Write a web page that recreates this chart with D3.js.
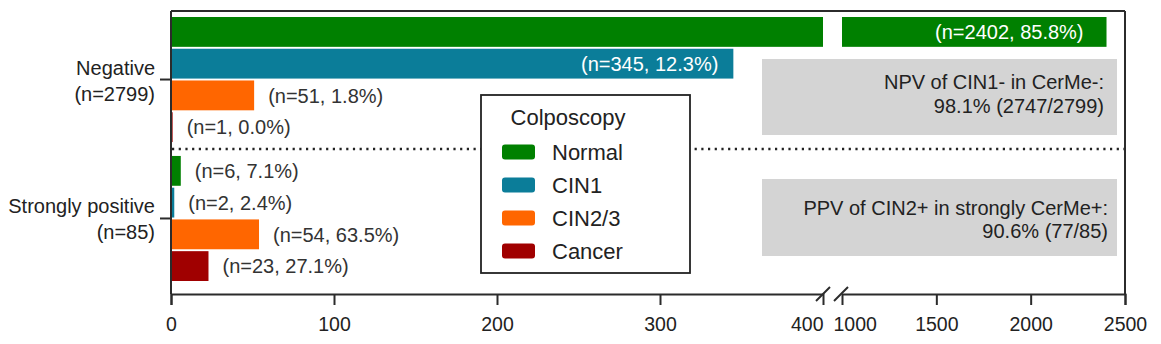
<!DOCTYPE html>
<html>
<head>
<meta charset="utf-8">
<script src="https://cdn.jsdelivr.net/npm/d3@7"></script>
<style>
  html, body { margin: 0; padding: 0; background: #fff; }
  svg { display: block; font-family: "Liberation Sans", Arial, sans-serif; }
</style>
</head>
<body>
<svg id="chart" width="1161" height="344"></svg>
<script>
// Colposcopy outcome by CerMe result
const categories = ["Negative", "Strongly positive"];
const categoryCounts = [2799, 85];
const series = ["Normal", "CIN1", "CIN2/3", "Cancer"];
const seriesColors = ["#008000", "#0b7d99", "#ff6600", "#a00000"];
const negativeValues = [2402, 345, 51, 1];
const negativePercents = ["85.8", "12.3", "1.8", "0.0"];
const strongValues = [6, 2, 54, 23];
const strongPercents = ["7.1", "2.4", "63.5", "27.1"];
const leftTicks = [0, 100, 200, 300, 400];
const rightTicks = [1000, 1500, 2000, 2500];
const notes = [
  ["NPV of CIN1- in CerMe-:", "98.1% (2747/2799)"],
  ["PPV of CIN2+ in strongly CerMe+:", "90.6% (77/85)"]
];

const rows = [
  { cat: categories[0], n: categoryCounts[0], values: negativeValues, pcts: negativePercents },
  { cat: categories[1], n: categoryCounts[1], values: strongValues, pcts: strongPercents }
];

const svg = d3.select("#chart");
const axisColor = "#2b2b2b";
const textColor = "#333";

// Broken x axis: 0–400 on the left, 1000–2500 on the right
const xLeft = d3.scaleLinear().domain([0, 400]).range([171, 823]);
const xRight = d3.scaleLinear().domain([1000, 2500]).range([842, 1125]);
const x = v => (v <= 400 ? xLeft(v) : xRight(v));

const yTop = 11, yAxis = 294;
const yGroup = d3.scaleBand().domain(categories).range([17, 281]).paddingInner(0.1);
const ySeries = d3.scaleBand().domain(series).range([0, yGroup.bandwidth()]).paddingInner(0.06);
const color = d3.scaleOrdinal().domain(series).range(seriesColors);

// Dotted separator between the two groups
const sepY = (yGroup(categories[0]) + yGroup.bandwidth() + yGroup(categories[1])) / 2;
svg.append("line")
  .attr("x1", 172).attr("x2", 1124).attr("y1", sepY).attr("y2", sepY)
  .attr("stroke", "#222").attr("stroke-width", 2.4)
  .attr("stroke-dasharray", "2.2 4.5");

// Note boxes
const noteY = [[59, 135], [179, 256]];
const noteTextY = [[89, 113], [215, 238]];
const noteRight = [1104, 1108];
notes.forEach((lines, i) => {
  svg.append("rect")
    .attr("x", 762).attr("y", noteY[i][0])
    .attr("width", 1117 - 762).attr("height", noteY[i][1] - noteY[i][0])
    .attr("fill", "#d4d4d4");
  lines.forEach((t, j) => {
    svg.append("text")
      .attr("x", noteRight[i]).attr("y", noteTextY[i][j])
      .attr("text-anchor", "end").attr("font-size", 20)
      .attr("fill", "#222").text(t);
  });
});

// Bars
const groups = svg.selectAll("g.grp").data(rows).join("g")
  .attr("class", "grp")
  .attr("transform", d => `translate(0,${yGroup(d.cat)})`);

groups.each(function (row) {
  const g = d3.select(this);
  row.values.forEach((v, i) => {
    const s = series[i];
    const y0 = ySeries(s), h = ySeries.bandwidth();
    if (v > 400) {
      g.append("rect").attr("x", xLeft(0)).attr("y", y0)
        .attr("width", xLeft(400) - xLeft(0)).attr("height", h)
        .attr("fill", color(s));
      g.append("rect").attr("x", xRight(1000)).attr("y", y0)
        .attr("width", xRight(v) - xRight(1000)).attr("height", h)
        .attr("fill", color(s));
    } else {
      g.append("rect").attr("x", x(0)).attr("y", y0)
        .attr("width", Math.max(x(v) - x(0), 1.5)).attr("height", h)
        .attr("fill", color(s));
    }
    const label = `(n=${v}, ${row.pcts[i]}%)`;
    const inside = v > 300;
    g.append("text")
      .attr("x", inside ? x(v) - (v > 400 ? 23 : 15) : x(v) + 14)
      .attr("y", y0 + h / 2 + 2)
      .attr("dominant-baseline", "middle")
      .attr("text-anchor", inside ? "end" : "start")
      .attr("font-size", 20)
      .attr("fill", inside ? "#fff" : textColor)
      .text(label);
  });
});

// Frame and axes
svg.append("line").attr("x1", 171).attr("x2", 1125).attr("y1", yTop).attr("y2", yTop)
  .attr("stroke", axisColor).attr("stroke-width", 2);
svg.append("line").attr("x1", 1125).attr("x2", 1125).attr("y1", yTop).attr("y2", yAxis)
  .attr("stroke", axisColor).attr("stroke-width", 2);
svg.append("line").attr("x1", 171).attr("x2", 171).attr("y1", yTop).attr("y2", yAxis)
  .attr("stroke", axisColor).attr("stroke-width", 2);

const axisLeft = svg.append("g").attr("transform", `translate(0,${yAxis})`)
  .call(d3.axisBottom(xLeft).tickValues(leftTicks).tickSize(11).tickPadding(12).tickFormat(d3.format("d")));
const axisRight = svg.append("g").attr("transform", `translate(0,${yAxis})`)
  .call(d3.axisBottom(xRight).tickValues(rightTicks).tickSize(11).tickPadding(12).tickFormat(d3.format("d")));

[axisLeft, axisRight].forEach(a => {
  a.select(".domain").attr("stroke", axisColor).attr("stroke-width", 2);
  a.selectAll(".tick line").attr("stroke", axisColor).attr("stroke-width", 2);
  a.selectAll(".tick text").attr("font-size", 19.5).attr("fill", "#222")
    .attr("font-family", "Liberation Sans, Arial, sans-serif");
});
// Break: no tick marks at the cut, labels pushed apart
axisLeft.selectAll(".tick").filter(d => d === 400).select("line").remove();
axisLeft.selectAll(".tick").filter(d => d === 400).select("text").attr("text-anchor", "end").attr("x", 0);
axisRight.selectAll(".tick").filter(d => d === 1000).select("line").remove();
axisRight.selectAll(".tick").filter(d => d === 1000).select("text").attr("text-anchor", "start").attr("x", -9);

// Break slashes
[xLeft(400), xRight(1000) - 1].forEach(cx => {
  svg.append("line")
    .attr("x1", cx - 7).attr("y1", yAxis + 7)
    .attr("x2", cx + 7).attr("y2", yAxis - 7)
    .attr("stroke", axisColor).attr("stroke-width", 2);
});

// Category labels and ticks
rows.forEach(row => {
  const cy = yGroup(row.cat) + yGroup.bandwidth() / 2;
  svg.append("line").attr("x1", 160).attr("x2", 171).attr("y1", cy).attr("y2", cy)
    .attr("stroke", axisColor).attr("stroke-width", 2);
  svg.append("text").attr("x", 155).attr("y", cy - 5)
    .attr("text-anchor", "end").attr("font-size", 20).attr("fill", "#222").text(row.cat);
  svg.append("text").attr("x", 155).attr("y", cy + 21)
    .attr("text-anchor", "end").attr("font-size", 20).attr("fill", "#222").text(`(n=${row.n})`);
});

// Legend
const legend = svg.append("g");
legend.append("rect").attr("x", 481).attr("y", 95).attr("width", 209).attr("height", 178)
  .attr("fill", "#fff").attr("stroke", "#222").attr("stroke-width", 1.8);
legend.append("text").attr("x", 568).attr("y", 125).attr("text-anchor", "middle")
  .attr("font-size", 22).attr("fill", "#222").text("Colposcopy");
series.forEach((s, i) => {
  const cy = 152 + i * 33;
  legend.append("rect").attr("x", 502).attr("y", cy - 7.5).attr("width", 33).attr("height", 15)
    .attr("rx", 3).attr("fill", color(s));
  legend.append("text").attr("x", 552).attr("y", cy + 8)
    .attr("font-size", 22).attr("fill", "#222").text(s);
});
</script>
</body>
</html>
